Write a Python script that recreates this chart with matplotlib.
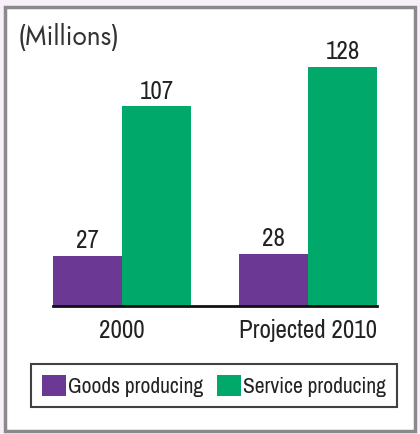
import matplotlib
matplotlib.use("Agg")
import matplotlib.pyplot as plt
from matplotlib.patches import Rectangle, Patch
from matplotlib.font_manager import FontProperties

years = ["2000", "Projected 2010"]
goods = [27, 28]
service = [107, 128]
series_names = ["Goods producing", "Service producing"]

purple = "#6b3894"
green = "#00a86a"
ink = "#222222"

narrow = FontProperties(family="Archivo Narrow", size=18)
legend_font = FontProperties(family="Archivo Narrow", size=15.5)

W, H = 420, 435
fig = plt.figure(figsize=(W / 100, H / 100), dpi=100)
fig.patch.set_facecolor("#f7f0f8")

# white panel with grey edge
fig.patches.append(Rectangle((5 / W, 3 / H), 410 / W, 424 / H, transform=fig.transFigure,
                             facecolor="white", edgecolor="#8a8a8a", linewidth=2.5, zorder=-5))

w = 69 / 186
left, right = 53, 377
bottom, top = 307, 40
ax = fig.add_axes([left / W, (H - bottom) / H, (right - left) / W, (bottom - top) / H], zorder=2)
ax.set_facecolor("none")
ax.set_xlim(-w, 1 + w)
ax.set_ylim(0, (bottom - top) / 1.87)

x = list(range(len(years)))
b1 = ax.bar([i - w / 2 for i in x], goods, w, color=purple)
b2 = ax.bar([i + w / 2 for i in x], service, w, color=green)
for bars, vals in ((b1, goods), (b2, service)):
    for r, v in zip(bars, vals):
        ax.annotate(str(v), (r.get_x() + r.get_width() / 2, v), xytext=(0, 3),
                    textcoords="offset points", ha="center", va="bottom",
                    fontproperties=narrow, color=ink)

for s in ("top", "left", "right"):
    ax.spines[s].set_visible(False)
ax.spines["bottom"].set_linewidth(2)
ax.spines["bottom"].set_color("#111111")
ax.set_yticks([])
ax.set_xticks(x)
ax.set_xticklabels(years, fontproperties=narrow, color=ink)
ax.tick_params(axis="x", length=0, pad=9)

fig.text(18 / W, (H - 37) / H, "(Millions)", fontsize=19, color="#333333",
         ha="left", va="center", family="Jost", fontweight="light")

handles = [Patch(facecolor=purple), Patch(facecolor=green)]
leg = fig.legend(handles, series_names, loc="center", ncol=2,
                 bbox_to_anchor=(214 / W, (H - 386.5) / H),
                 frameon=True, fancybox=False, edgecolor="#111111",
                 prop=legend_font,
                 handlelength=1.15, handleheight=1.15, handletextpad=0.1,
                 columnspacing=0.6, borderpad=0.5, borderaxespad=0)
leg.get_frame().set_linewidth(1.5)
for t in leg.get_texts():
    t.set_color(ink)

fig.savefig("out.png", dpi=100, facecolor=fig.get_facecolor())
